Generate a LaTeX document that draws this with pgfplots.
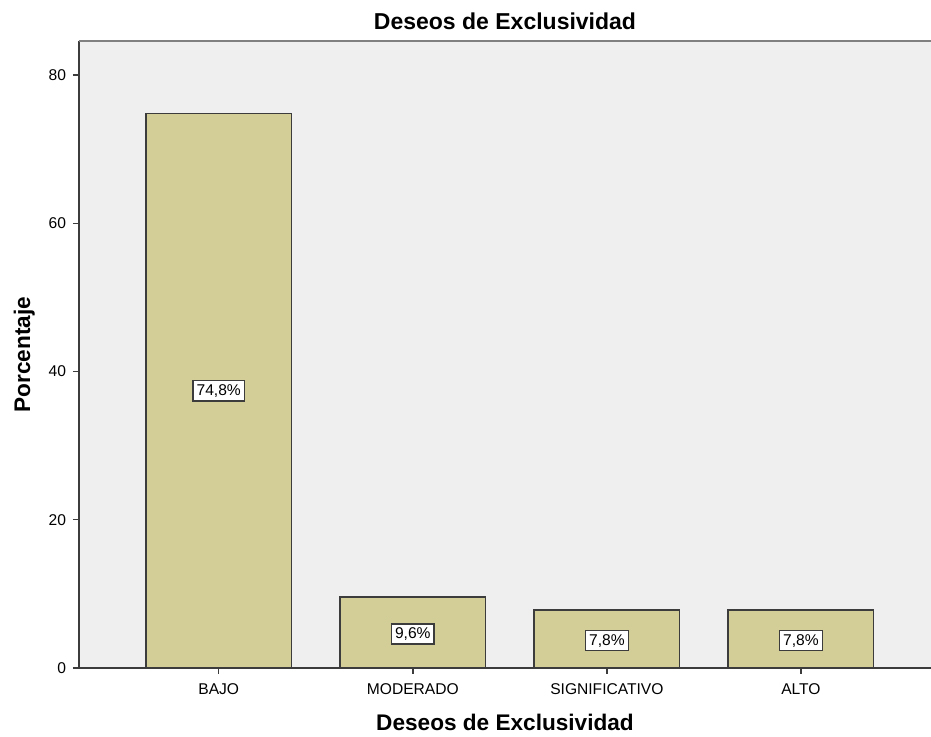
\documentclass[border=0pt]{standalone}
\usepackage{pgfplots}
\pgfplotsset{compat=1.18}
\usepackage{fontspec}
\setmainfont{Liberation Sans}
\definecolor{bgc}{RGB}{239,239,239}
\definecolor{barc}{RGB}{211,206,151}
\definecolor{edgec}{RGB}{60,60,60}

\begin{document}
\begin{tikzpicture}
\begin{axis}[
  scale only axis,
  width=426pt, height=313.5pt,
  xmin=-0.72, xmax=3.67,
  ymin=0, ymax=84.6,
  xtick=data,
  xticklabels={BAJO,MODERADO,SIGNIFICATIVO,ALTO},
  ytick={0,20,40,60,80},
  xtick pos=lower, ytick pos=left,
  tick align=outside,
  major tick length=3pt,
  tick style={edgec, line width=0.7pt},
  axis line style={draw=none},
  axis background/.style={fill=bgc},
  ticklabel style={font=\fontsize{7.8}{9}\selectfont},
  xticklabel style={yshift=-1.5pt},
  /pgf/number format/assume math mode=true,
  title={\bfseries Deseos de Exclusividad},
  title style={font=\fontsize{11.5}{13}\selectfont, yshift=-4pt},
  xlabel={\bfseries Deseos de Exclusividad},
  ylabel={\bfseries Porcentaje},
  label style={font=\fontsize{11.3}{13}\selectfont},
  xlabel style={yshift=-2.5pt},
  ylabel style={yshift=0pt},
  clip=false,
]
\addplot[ybar, bar width=0.75, fill=barc, draw=edgec, line width=0.7pt]
coordinates {(0,74.8) (1,9.6) (2,7.8) (3,7.8)};
\addplot[only marks, mark=none,
  nodes near coords, point meta=explicit symbolic,
  every node near coord/.style={anchor=center, fill=white, draw=edgec,
    line width=0.7pt, inner sep=1.8pt, font=\fontsize{7.8}{9}\selectfont}]
coordinates {(0,37.4)[74,8\%] (1,4.6)[9,6\%] (2,3.7)[7,8\%] (3,3.7)[7,8\%]};
\draw[edgec, line width=0.8pt] (rel axis cs:0,1) -- (rel axis cs:0,0) -- (rel axis cs:1,0);
\draw[gray, line width=0.8pt] (rel axis cs:0,1) -- (rel axis cs:1,1);
\coordinate (o) at (rel axis cs:0,0);
\end{axis}
\pgfresetboundingbox
\path ([shift={(-39.5pt,-34.5pt)}]o) rectangle ++(465.5pt,368.5pt);
\end{tikzpicture}
\end{document}
